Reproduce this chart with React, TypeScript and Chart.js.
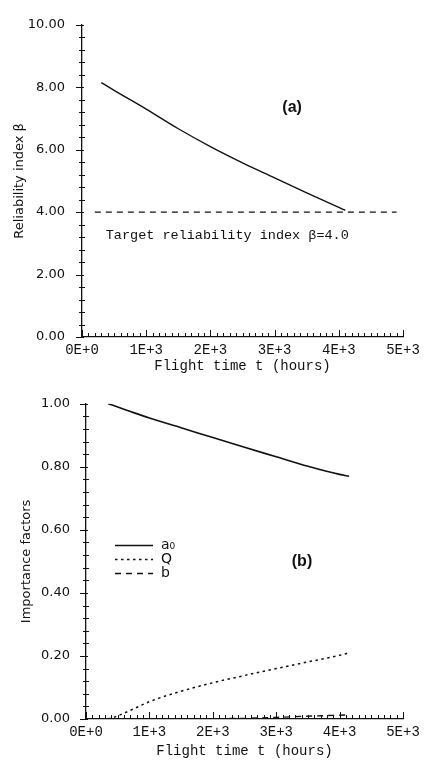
import React, { useEffect, useRef } from "react";
import { Chart, registerables } from "chart.js";

Chart.register(...registerables);

// ---------- data (a) ----------
const timeBeta = [300, 500, 1000, 1500, 2000, 2500, 3000, 3500, 4000, 4100];
const betaValues = [8.15, 7.9, 7.3, 6.67, 6.1, 5.58, 5.1, 4.62, 4.15, 4.06];
const targetTime = [200, 4900];
const targetBeta = [4.0, 4.0];

// ---------- data (b) ----------
const timeImp = [350, 500, 750, 1000, 1500, 2000, 2500, 3000, 3500, 4000, 4150];
const a0Values = [1.0, 0.99, 0.972, 0.955, 0.924, 0.893, 0.862, 0.832, 0.802, 0.776, 0.77];
const qValues = [0.0, 0.01, 0.032, 0.055, 0.088, 0.115, 0.138, 0.16, 0.181, 0.202, 0.21];
const bValues = [0.0, 0.0, 0.0, 0.0, 0.0, 0.001, 0.002, 0.005, 0.009, 0.012, 0.013];

// ---------- tick labels ----------
const xTickLabels = ["0E+0", "1E+3", "2E+3", "3E+3", "4E+3", "5E+3"];
const betaTickLabels = ["0.00", "2.00", "4.00", "6.00", "8.00", "10.00"];
const impTickLabels = ["0.00", "0.20", "0.40", "0.60", "0.80", "1.00"];
const legendLabels = ["a\u2080", "Q", "b"];

const INK = "#111";

const pts = (xs: number[], ys: number[]) => xs.map((x, i) => ({ x, y: ys[i] }));

// draws the small axis tick marks (major + minor), pointing into the plot on x
const axisTicksPlugin = {
  id: "axisTicks",
  afterDraw(chart: any, _a: any, opts: any) {
    const { ctx, scales } = chart;
    const x = scales.x;
    const y = scales.y;
    ctx.save();
    ctx.strokeStyle = INK;
    ctx.lineWidth = 1;
    ctx.beginPath();
    const nx = Math.round((x.max - x.min) / opts.xMinor);
    for (let i = 0; i <= nx; i++) {
      const v = x.min + i * opts.xMinor;
      const px = Math.round(x.getPixelForValue(v)) + 0.5;
      const major = i % opts.xPer === 0;
      const len = major ? 7 : 4;
      ctx.moveTo(px, y.bottom);
      ctx.lineTo(px, y.bottom - len);
    }
    const ny = Math.round((y.max - y.min) / opts.yMinor);
    for (let i = 0; i <= ny; i++) {
      const v = y.min + i * opts.yMinor;
      const py = Math.round(y.getPixelForValue(v)) + 0.5;
      const major = i % opts.yPer === 0;
      if (major) {
        ctx.moveTo(x.left - 6, py);
        ctx.lineTo(x.left + 2, py);
      } else {
        ctx.moveTo(x.left - 3, py);
        ctx.lineTo(x.left + 3, py);
      }
    }
    ctx.stroke();
    ctx.restore();
  },
};

// free text placed at data coordinates
const textMarksPlugin = {
  id: "textMarks",
  afterDraw(chart: any, _a: any, opts: any) {
    const { ctx, scales } = chart;
    (opts.items || []).forEach((m: any) => {
      ctx.save();
      ctx.font = m.font;
      ctx.fillStyle = INK;
      ctx.textAlign = m.align || "left";
      ctx.textBaseline = "middle";
      ctx.fillText(m.text, scales.x.getPixelForValue(m.x), scales.y.getPixelForValue(m.y));
      ctx.restore();
    });
  },
};

// line-style key drawn from the datasets
const lineKeyPlugin = {
  id: "lineKey",
  afterDraw(chart: any, _a: any, opts: any) {
    if (!opts || !opts.show) return;
    const { ctx, chartArea } = chart;
    chart.data.datasets.forEach((ds: any, i: number) => {
      const y = Math.round(chartArea.top + opts.top + i * opts.gap) + 0.5;
      ctx.save();
      ctx.strokeStyle = ds.borderColor;
      ctx.lineWidth = ds.borderWidth;
      ctx.setLineDash(ds.borderDash || []);
      ctx.beginPath();
      ctx.moveTo(chartArea.left + opts.x0, y);
      ctx.lineTo(chartArea.left + opts.x1, y);
      ctx.stroke();
      ctx.setLineDash([]);
      ctx.fillStyle = INK;
      ctx.font = opts.font;
      ctx.textAlign = "left";
      ctx.textBaseline = "middle";
      ctx.fillText(ds.label, chartArea.left + opts.tx, y);
      ctx.restore();
    });
  },
};

function makeOptions(cfg: any): any {
  return {
    responsive: false,
    animation: false,
    devicePixelRatio: 1,
    layout: { padding: { top: 15, right: 22, bottom: 0, left: 0 } },
    plugins: {
      legend: { display: false },
      tooltip: { enabled: false },
      axisTicks: { xMinor: 100, xPer: 10, yMinor: cfg.yMinor, yPer: 5 },
      textMarks: { items: cfg.texts },
      lineKey: cfg.key || { show: false },
    },
    scales: {
      x: {
        type: "linear",
        min: 0,
        max: 5000,
        grid: { display: false, drawTicks: false },
        border: { display: true, color: INK, width: 1.3 },
        ticks: {
          stepSize: 1000,
          color: INK,
          padding: 5,
          maxRotation: 0,
          font: { family: "Liberation Mono", size: 14 },
          callback: (_v: any, i: number) => xTickLabels[i],
        },
        title: {
          display: true,
          text: "Flight time t (hours)",
          color: INK,
          font: { family: "Liberation Mono", size: 14 },
          padding: { top: 0, bottom: cfg.xTitlePad },
        },
        afterFit: (s: any) => {
          s.height = cfg.xHeight;
        },
      },
      y: {
        type: "linear",
        min: 0,
        max: cfg.yMax,
        grid: { display: false, drawTicks: false },
        border: { display: true, color: INK, width: 1.3 },
        ticks: {
          stepSize: cfg.yStep,
          color: INK,
          padding: cfg.yPad,
          font: { family: "DejaVu Sans", size: 13 },
          callback: (_v: any, i: number) => cfg.yLabels[i],
        },
        title: {
          display: true,
          text: cfg.yTitle,
          color: INK,
          font: { family: "DejaVu Sans", size: 13 },
          padding: { top: cfg.yTitlePad, bottom: 0 },
        },
        afterFit: (s: any) => {
          s.width = cfg.yWidth;
        },
      },
    },
  };
}

function ChartCanvas({ config, width, height, top }: any) {
  const ref = useRef<HTMLCanvasElement | null>(null);
  useEffect(() => {
    if (!ref.current) return;
    const chart = new Chart(ref.current, config);
    return () => chart.destroy();
  }, []);
  return (
    <canvas
      ref={ref}
      width={width}
      height={height}
      style={{ position: "absolute", left: 0, top, width, height, display: "block" }}
    />
  );
}

export default function App() {
  const configA: any = {
    type: "line",
    data: {
      datasets: [
        {
          label: "Reliability index",
          data: pts(timeBeta, betaValues),
          borderColor: INK,
          borderWidth: 1.4,
          pointRadius: 0,
          cubicInterpolationMode: "monotone",
          fill: false,
        },
        {
          label: "Target",
          data: pts(targetTime, targetBeta),
          borderColor: INK,
          borderWidth: 1.4,
          borderDash: [6, 5],
          pointRadius: 0,
          fill: false,
        },
      ],
    },
    options: makeOptions({
      yMax: 10,
      yStep: 2,
      yMinor: 0.4,
      yLabels: betaTickLabels,
      yTitle: "Reliability index \u03b2",
      yTitlePad: 12,
      yPad: 17,
      yWidth: 82,
      xHeight: 43,
      xTitlePad: 5,
      texts: [
        { text: "(a)", x: 3273, y: 7.36, font: "bold 16px 'Liberation Sans'", align: "center" },
        {
          text: "Target reliability index \u03b2=4.0",
          x: 370,
          y: 3.26,
          font: "13.5px 'Liberation Mono'",
          align: "left",
        },
      ],
    }),
    plugins: [axisTicksPlugin, textMarksPlugin, lineKeyPlugin],
  };

  const configB: any = {
    type: "line",
    data: {
      datasets: [
        {
          label: legendLabels[0],
          data: pts(timeImp, a0Values),
          borderColor: INK,
          borderWidth: 1.6,
          pointRadius: 0,
          cubicInterpolationMode: "monotone",
          fill: false,
        },
        {
          label: legendLabels[1],
          data: pts(timeImp, qValues),
          borderColor: INK,
          borderWidth: 1.5,
          borderDash: [2.5, 3.5],
          pointRadius: 0,
          cubicInterpolationMode: "monotone",
          fill: false,
        },
        {
          label: legendLabels[2],
          data: pts(timeImp, bValues),
          borderColor: INK,
          borderWidth: 1.4,
          borderDash: [6, 5],
          pointRadius: 0,
          cubicInterpolationMode: "monotone",
          fill: false,
        },
      ],
    },
    options: makeOptions({
      yMax: 1,
      yStep: 0.2,
      yMinor: 0.04,
      yLabels: impTickLabels,
      yTitle: "Importance factors",
      yTitlePad: 19,
      yPad: 16,
      yWidth: 86,
      xHeight: 43,
      xTitlePad: 2,
      texts: [{ text: "(b)", x: 3407, y: 0.498, font: "bold 16px 'Liberation Sans'", align: "center" }],
      key: { show: true, top: 141, gap: 14.3, x0: 29, x1: 67, tx: 75, font: "14px 'DejaVu Sans'" },
    }),
    plugins: [axisTicksPlugin, textMarksPlugin, lineKeyPlugin],
  };

  return (
    <div style={{ position: "absolute", left: 0, top: 0, width: 425, height: 762, background: "#fff" }}>
      <ChartCanvas config={configA} width={425} height={380} top={0} />
      <ChartCanvas config={configB} width={425} height={382} top={380} />
    </div>
  );
}
